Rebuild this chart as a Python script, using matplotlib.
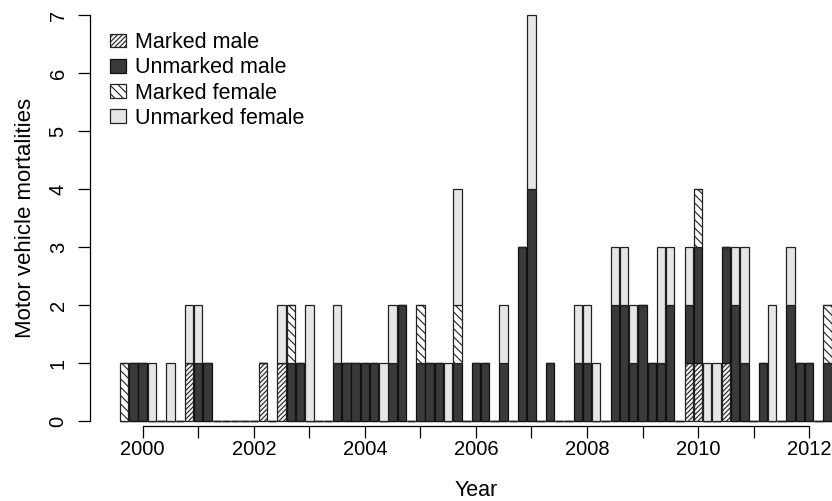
import numpy as np
import matplotlib
matplotlib.use("Agg")
import matplotlib.pyplot as plt

plt.rcParams['font.family'] = ['Liberation Sans', 'DejaVu Sans']
plt.rcParams['hatch.linewidth'] = 0.8

# bimonthly periods, period index 2 sits on Jan 2000
n_periods = 77
period_x = 2000 + (np.arange(n_periods) - 2) / 6.0

marked_male = [0, 0, 0, 0, 0, 0, 0, 1, 0, 0, 0, 0, 0, 0, 0, 1, 0, 1, 0, 0,
               0, 0, 0, 0, 0, 0, 0, 0, 0, 0, 0, 0, 0, 0, 0, 0, 0, 0, 0, 0,
               0, 0, 0, 0, 0, 0, 0, 0, 0, 0, 0, 0, 0, 0, 0, 0, 0, 0, 0, 0,
               0, 1, 1, 0, 0, 1, 0, 0, 0, 0, 0, 0, 0, 0, 0, 0, 0]
unmarked_male = [0, 1, 1, 0, 0, 0, 0, 0, 1, 1, 0, 0, 0, 0, 0, 0, 0, 0, 1, 1,
                 0, 0, 0, 1, 1, 1, 1, 1, 0, 1, 2, 0, 1, 1, 1, 0, 1, 0, 1, 1,
                 0, 1, 0, 3, 4, 0, 1, 0, 0, 1, 1, 0, 0, 2, 2, 1, 2, 1, 1, 2,
                 0, 1, 2, 0, 0, 2, 2, 1, 0, 1, 0, 0, 2, 1, 1, 0, 1]
marked_female = [1, 0, 0, 0, 0, 0, 0, 0, 0, 0, 0, 0, 0, 0, 0, 0, 0, 0, 1, 0,
                 0, 0, 0, 0, 0, 0, 0, 0, 0, 0, 0, 0, 1, 0, 0, 0, 1, 0, 0, 0,
                 0, 0, 0, 0, 0, 0, 0, 0, 0, 0, 0, 0, 0, 0, 0, 0, 0, 0, 0, 0,
                 0, 0, 1, 0, 0, 0, 0, 0, 0, 0, 0, 0, 0, 0, 0, 0, 1]
unmarked_female = [0, 0, 0, 1, 0, 1, 0, 1, 1, 0, 0, 0, 0, 0, 0, 0, 0, 1, 0, 0,
                   2, 0, 0, 1, 0, 0, 0, 0, 1, 1, 0, 0, 0, 0, 0, 1, 2, 0, 0, 0,
                   0, 1, 0, 0, 3, 0, 0, 0, 0, 1, 1, 1, 0, 1, 1, 1, 0, 0, 2, 1,
                   0, 1, 0, 1, 1, 0, 1, 2, 0, 0, 2, 0, 1, 0, 0, 0, 0]

labels = ["Marked male", "Unmarked male", "Marked female", "Unmarked female"]
years = list(range(2000, 2013))
year_labels = [str(y) if y % 2 == 0 else "" for y in years]

fig = plt.figure(figsize=(8.32, 5.01), dpi=100)
ax = fig.add_axes([0.1081, 0.1240, 0.9645, 0.8693])

width = (1 / 6.0) / 1.1
mm = np.array(marked_male)
um = np.array(unmarked_male)
mf = np.array(marked_female)
uf = np.array(unmarked_female)

b1 = ax.bar(period_x, mm, width, facecolor='#f4f4f4', edgecolor='#222222',
            hatch='///////', linewidth=0.9, label=labels[0])
b2 = ax.bar(period_x, um, width, bottom=mm, facecolor='#3a3a3a',
            edgecolor='#111111', linewidth=0.9, label=labels[1])
b3 = ax.bar(period_x, mf, width, bottom=mm + um, facecolor='white',
            edgecolor='#222222', hatch='\\\\\\\\', linewidth=0.9, label=labels[2])
b4 = ax.bar(period_x, uf, width, bottom=mm + um + mf, facecolor='#e6e6e6',
            edgecolor='#222222', linewidth=0.9, label=labels[3])

ax.set_xlim(1999.05, 2013.5)
ax.set_ylim(-0.3, 7.2)

for s in ['top', 'right']:
    ax.spines[s].set_visible(False)
ax.spines['bottom'].set_position(('data', -0.07))
ax.spines['bottom'].set_bounds(2000, 2012)
ax.spines['left'].set_bounds(0, 7)
ax.spines['bottom'].set_linewidth(0.9)
ax.spines['left'].set_linewidth(0.9)

ax.set_xticks(years)
ax.set_xticklabels(year_labels)
ax.set_yticks(range(0, 8))
ax.tick_params(axis='both', length=8.5, width=0.9, labelsize=14.5)
ax.tick_params(axis='x', pad=2)
ax.tick_params(axis='y', pad=7.5)
for t in ax.get_yticklabels():
    t.set_rotation(90)
    t.set_va('center')

fig.text(26 / 832, 1 - 218 / 501, "Motor vehicle mortalities", rotation=90,
         ha='center', va='center', fontsize=16)
fig.text(476 / 832, 1 - 491 / 501, "Year", ha='center', va='center', fontsize=15.5)

ax.legend(handles=[b1, b2, b3, b4], loc='upper left',
          bbox_to_anchor=(110 / 832, 1 - 32 / 501), bbox_transform=fig.transFigure,
          frameon=False, fontsize=15.5, handlelength=0.75, handleheight=0.6,
          handletextpad=0.42, labelspacing=0.2, borderpad=0, borderaxespad=0)

fig.savefig("out.png", dpi=100)
